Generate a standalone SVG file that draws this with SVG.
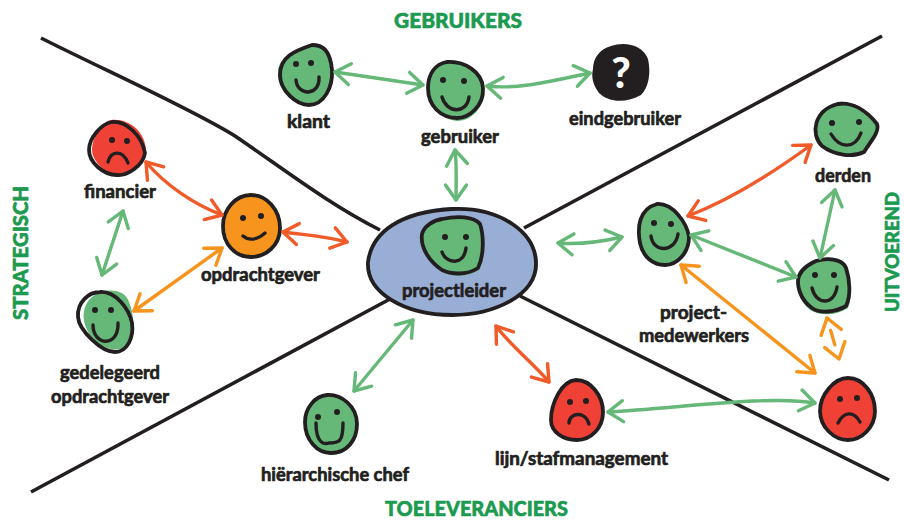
<svg xmlns="http://www.w3.org/2000/svg" width="904" height="521" viewBox="0 0 904 521">
<style>
.divider{fill:none;stroke:#231f20;stroke-width:3.6}
.arrow{fill:none;stroke-width:3.4;stroke-linecap:round}
.g{stroke:#66b878;marker-start:url(#hg);marker-end:url(#hg)}
.r{stroke:#f15a29;marker-start:url(#hr);marker-end:url(#hr)}
.o{stroke:#f7941d;marker-start:url(#ho);marker-end:url(#ho)}
.out{fill:none;stroke:#231f20;stroke-width:3.8;stroke-linejoin:round}
.mouth{fill:none;stroke:#231f20;stroke-width:3.4;stroke-linecap:round}
.eye{fill:#231f20}
.green{fill:#66b878}.red{fill:#ef4136}.orange{fill:#f7941d}
.lab{font-family:"Lato","Liberation Sans",sans-serif;font-weight:700;font-size:19px;fill:#231f20;stroke:#231f20;stroke-width:.7;stroke-linejoin:round}
.head{font-family:"Lato","Liberation Sans",sans-serif;font-weight:900;font-size:21px;fill:#1b9a50;stroke:#1b9a50;stroke-width:.6}
</style>
<defs>
<marker id="hg" viewBox="-18 -14 22 28" markerWidth="22" markerHeight="28" refX="0" refY="0" orient="auto-start-reverse" markerUnits="userSpaceOnUse"><path d="M-15,-10.5 L0,0 L-15,10.5" fill="none" stroke="#66b878" stroke-width="3.4" stroke-linecap="round" stroke-linejoin="round"/></marker>
<marker id="hr" viewBox="-18 -14 22 28" markerWidth="22" markerHeight="28" refX="0" refY="0" orient="auto-start-reverse" markerUnits="userSpaceOnUse"><path d="M-15,-10.5 L0,0 L-15,10.5" fill="none" stroke="#f15a29" stroke-width="3.4" stroke-linecap="round" stroke-linejoin="round"/></marker>
<marker id="ho" viewBox="-18 -14 22 28" markerWidth="22" markerHeight="28" refX="0" refY="0" orient="auto-start-reverse" markerUnits="userSpaceOnUse"><path d="M-15,-10.5 L0,0 L-15,10.5" fill="none" stroke="#f7941d" stroke-width="3.4" stroke-linecap="round" stroke-linejoin="round"/></marker>
</defs>

<g id="dividers">
<path class="divider" d="M41,38 C100,68 190,108 235,136 C285,170 330,205 380,230"/>
<path class="divider" d="M882,36 L524,228"/>
<path class="divider" d="M31,492 L390,299"/>
<path class="divider" d="M520,296 L889,480"/>
</g>

<g id="headings">
<text class="head" x="394" y="28" textLength="128" lengthAdjust="spacingAndGlyphs">GEBRUIKERS</text>
<text class="head" x="385" y="516" textLength="183" lengthAdjust="spacingAndGlyphs">TOELEVERANCIERS</text>
<text class="head" transform="translate(28,320) rotate(-90)" textLength="134" lengthAdjust="spacingAndGlyphs">STRATEGISCH</text>
<text class="head" style="font-size:18px" transform="translate(899,312) rotate(-90)" textLength="120" lengthAdjust="spacingAndGlyphs">UITVOEREND</text>
</g>

<g id="node-projectleider">
<path fill="#98aed4" d="M369,264 C370,232 405,207 455,207 C500,207 539,232 538,264 C537,295 495,316 452,315 C405,315 368,293 369,264Z"/>
<path class="out" d="M368,262 C372,232 400,212 452,209 C500,207 536,232 536,264 C536,295 495,315 452,315 C405,315 366,293 368,262Z"/>
<g transform="translate(452,246)">
<path class="green" d="M-9,-27 C5,-30 23,-30 29,-22 C33,-10 33,12 27,24 C14,32 0,31 -9,26 C-21,18 -31,4 -29,-10 C-27,-20 -17,-26 -9,-27Z"/>
<path class="out" d="M-10,-27 C4,-30 22,-30 28,-22 C32,-10 32,10 26,22 C14,30 -2,28 -10,24 C-22,16 -32,2 -30,-12 C-28,-20 -18,-26 -10,-27Z"/>
<circle class="eye" cx="-7" cy="-9" r="3"/><circle class="eye" cx="14" cy="-9" r="3"/>
<path class="mouth" d="M-10,6 C-6,18 12,20 14,2"/>
</g>
<text class="lab" x="402" y="297" textLength="104" lengthAdjust="spacingAndGlyphs">projectleider</text>
</g>

<g id="node-klant" transform="translate(306,75)">
<path class="green" d="M8,-31 C18,-31 26,-26 27,-5 C28,14 18,31 3,31 C-12,31 -28,16 -28,-2 C-28,-18 -12,-25 8,-31Z"/>
<path class="out" d="M6,-30 C16,-30 24,-26 26,-5 C27,12 18,30 3,30 C-10,30 -26,15 -26,0 C-26,-18 -12,-24 6,-30Z"/>
<circle class="eye" cx="-10" cy="-11" r="3"/><circle class="eye" cx="5" cy="-12" r="3"/>
<path class="mouth" d="M-10,5 C-9,21 14,22 13,2"/>
<text class="lab" x="-19" y="53" textLength="43" lengthAdjust="spacingAndGlyphs">klant</text>
</g>

<g id="node-gebruiker" transform="translate(455,90)">
<path class="green" d="M-8,-30 C10,-30 29,-18 29,-2 C30,16 18,31 2,31 C-14,29 -27,16 -27,-2 C-27,-16 -20,-28 -8,-30Z"/>
<path class="out" d="M-8,-28 C10,-29 27,-18 28,-2 C29,16 14,28 2,28 C-14,28 -27,16 -27,-2 C-27,-16 -20,-26 -8,-28Z"/>
<circle class="eye" cx="-12" cy="-10" r="3"/><circle class="eye" cx="9" cy="-9" r="3"/>
<path class="mouth" d="M-13,7 C-8,24 12,24 14,7"/>
<text class="lab" x="-34" y="53" textLength="78" lengthAdjust="spacingAndGlyphs">gebruiker</text>
</g>

<g id="node-eindgebruiker" transform="translate(621,73)">
<path fill="#231f20" d="M-10,-27 C4,-32 22,-28 27,-14 C30,0 28,14 20,22 C6,30 -12,30 -22,20 C-28,12 -30,4 -28,-4 C-28,-14 -22,-24 -10,-27Z"/>
<text x="0" y="15" text-anchor="middle" font-family="Lato, 'Liberation Sans', sans-serif" font-weight="900" font-size="42" fill="#fff">?</text>
<text class="lab" x="-52" y="52" textLength="112" lengthAdjust="spacingAndGlyphs">eindgebruiker</text>
</g>

<g id="node-financier" transform="translate(117,148)">
<path class="red" d="M-6,-28 C12,-30 29,-16 29,4 C27,18 12,27 0,27 C-12,27 -25,12 -25,2 C-25,-10 -16,-26 -6,-28Z"/>
<path class="out" d="M-5,-26 C10,-27 25,-12 28,5 C26,18 10,28 0,27 C-14,27 -28,14 -28,2 C-28,-10 -16,-24 -5,-26Z"/>
<circle class="eye" cx="-5" cy="-8" r="3"/><circle class="eye" cx="10" cy="-7" r="3"/>
<path class="mouth" d="M-9,14 C-6,2 6,2 11,15"/>
<text class="lab" x="-33" y="50" textLength="72" lengthAdjust="spacingAndGlyphs">financier</text>
</g>

<g id="node-opdrachtgever" transform="translate(251,226)">
<path class="orange" d="M0,-30 C16,-30 29,-14 28,2 C28,20 14,30 0,30 C-16,30 -26,16 -26,0 C-26,-16 -16,-30 0,-30Z"/>
<path class="out" d="M0,-31 C16,-31 29,-16 29,2 C29,20 14,31 0,31 C-16,31 -28,18 -28,0 C-28,-16 -16,-31 0,-31Z"/>
<circle class="eye" cx="-8" cy="-8" r="3"/><circle class="eye" cx="10" cy="-10" r="3"/>
<path class="mouth" d="M-8,10 C-2,15 6,14 14,7"/>
<text class="lab" x="-50" y="55" textLength="119" lengthAdjust="spacingAndGlyphs">opdrachtgever</text>
</g>

<g id="node-gedelegeerd" transform="translate(105,322)">
<path class="green" d="M-5,-30 C6,-33 20,-32 24,-20 C30,-6 30,14 22,24 C12,30 0,28 -10,18 C-24,6 -28,-20 -5,-30Z"/>
<path class="out" d="M-5,-30 C10,-31 24,-14 27,1 C29,16 22,30 10,30 C-4,30 -26,8 -27,-5 C-28,-20 -16,-30 -5,-30Z"/>
<circle class="eye" cx="-10" cy="-12" r="3"/><circle class="eye" cx="6" cy="-12" r="3"/>
<path class="mouth" d="M-12,3 C-12,24 14,26 13,1"/>
<text class="lab" x="-45" y="57" textLength="100" lengthAdjust="spacingAndGlyphs">gedelegeerd</text>
<text class="lab" x="-54" y="81" textLength="118" lengthAdjust="spacingAndGlyphs">opdrachtgever</text>
</g>

<g id="node-hierarchische-chef" transform="translate(331,424)">
<path class="green" d="M-4,-29 C10,-30 26,-18 27,0 C28,16 18,30 2,31 C-14,30 -26,16 -26,-2 C-26,-16 -16,-28 -4,-29Z"/>
<path class="out" d="M-4,-29 C10,-30 26,-18 26,0 C26,16 16,29 0,29 C-14,29 -26,16 -26,-2 C-26,-16 -16,-28 -4,-29Z"/>
<circle class="eye" cx="-13" cy="-7" r="3"/><circle class="eye" cx="6" cy="-12" r="3"/>
<path class="mouth" d="M-15,-1 C-15,22 -5,20 -2,19 C8,19 12,18 12,-1"/>
<text class="lab" x="-70" y="57" textLength="148" lengthAdjust="spacingAndGlyphs">hiërarchische chef</text>
</g>

<g id="node-lijnstaf" transform="translate(577,410)">
<path class="red" d="M0,-29 C14,-29 27,-14 27,2 C27,18 16,30 2,30 C-10,30 -22,26 -24,14 C-28,0 -18,-27 0,-29Z"/>
<path class="out" d="M-1,-30 C14,-30 26,-14 26,2 C26,18 14,30 0,30 C-14,30 -26,22 -26,10 C-26,-6 -16,-29 -1,-30Z"/>
<circle class="eye" cx="-7" cy="-8" r="3"/><circle class="eye" cx="9" cy="-9" r="3"/>
<path class="mouth" d="M-8,13 C-8,3 8,0 12,14"/>
<text class="lab" x="-82" y="55" textLength="173" lengthAdjust="spacingAndGlyphs">lijn/stafmanagement</text>
</g>

<g id="node-rood-rechts" transform="translate(848,409)">
<path class="red" d="M0,-30 C16,-30 28,-14 28,2 C28,18 14,31 0,31 C-14,31 -29,18 -29,2 C-29,-14 -14,-30 0,-30Z"/>
<path class="out" d="M0,-31 C16,-31 27,-14 27,2 C27,18 14,31 0,31 C-14,31 -28,18 -28,2 C-28,-14 -14,-31 0,-31Z"/>
<circle class="eye" cx="-8" cy="-10" r="3"/><circle class="eye" cx="9" cy="-11" r="3"/>
<path class="mouth" d="M-10,14 C-4,2 6,2 12,13"/>
</g>

<g id="node-groen-rechts" transform="translate(824,286)">
<path class="green" d="M-8,-26 C2,-30 20,-30 24,-18 C28,-6 28,12 24,22 C12,30 -4,30 -14,24 C-26,14 -30,-2 -26,-12 C-22,-20 -14,-24 -8,-26Z"/>
<path class="out" d="M-8,-25 C2,-28 18,-28 22,-18 C26,-6 27,10 22,20 C12,26 -4,28 -12,22 C-24,14 -28,-2 -25,-10 C-22,-18 -14,-22 -8,-25Z"/>
<circle class="eye" cx="-9" cy="-11" r="3"/><circle class="eye" cx="10" cy="-11" r="3"/>
<path class="mouth" d="M-12,2 C-8,19 10,20 13,1"/>
</g>

<g id="node-derden" transform="translate(846,130)">
<path class="green" d="M-8,-28 C6,-30 22,-20 30,-6 C32,2 24,12 16,22 C6,28 -12,26 -24,15 C-34,4 -30,-22 -8,-28Z"/>
<path class="out" d="M-8,-26 C6,-28 20,-20 31,-6 C34,2 24,12 18,22 C6,28 -12,25 -24,16 C-36,4 -32,-20 -8,-26Z"/>
<circle class="eye" cx="-14" cy="-7" r="3"/><circle class="eye" cx="13" cy="-8" r="3"/>
<path class="mouth" d="M-15,4 C-6,19 9,19 15,3"/>
<text class="lab" x="-31" y="52" textLength="56" lengthAdjust="spacingAndGlyphs">derden</text>
</g>

<g id="node-projectmedewerkers" transform="translate(663,235)">
<path class="green" d="M-6,-30 C10,-32 24,-12 26,2 C26,18 14,29 2,30 C-10,31 -20,24 -24,8 C-26,-8 -22,-26 -6,-30Z"/>
<path class="out" d="M-6,-31 C10,-32 24,-12 26,2 C26,18 14,30 2,30 C-10,30 -20,22 -23,8 C-26,-8 -24,-26 -6,-31Z"/>
<circle class="eye" cx="-9" cy="-12" r="3"/><circle class="eye" cx="8" cy="-11" r="3"/>
<path class="mouth" d="M-12,1 C-10,18 12,18 15,-1"/>
<text class="lab" x="-3" y="84" textLength="67" lengthAdjust="spacingAndGlyphs">project-</text>
<text class="lab" x="-24" y="107" textLength="110" lengthAdjust="spacingAndGlyphs">medewerkers</text>
</g>

<g id="connectors">
<path class="arrow g" d="M335,72 L423,85"/>
<path class="arrow g" d="M487,86 C520,90 555,80 590,73"/>
<path class="arrow g" d="M455,150 C457,165 456,185 456,200"/>
<path class="arrow r" d="M146,162 C165,185 195,205 222,215"/>
<path class="arrow r" d="M283,232 C305,235 325,236 347,242"/>
<path class="arrow g" d="M123,211 L102,275"/>
<path class="arrow o" d="M222,248 L134,311"/>
<path class="arrow g" d="M413,320 L354,391"/>
<path class="arrow r" d="M496,326 C510,345 535,365 549,382"/>
<path class="arrow g" d="M608,412 C680,408 770,395 815,403"/>
<path class="arrow g" d="M558,243 C580,245 600,242 622,237"/>
<path class="arrow r" d="M811,145 C770,175 730,200 688,216"/>
<path class="arrow g" d="M835,190 L820,258"/>
<path class="arrow g" d="M691,235 L796,277"/>
<path class="arrow o" d="M681,265 L815,373"/>
<path class="arrow o" stroke-dasharray="0 13 15 40" d="M827,318 L839,359"/>
</g>
</svg>
